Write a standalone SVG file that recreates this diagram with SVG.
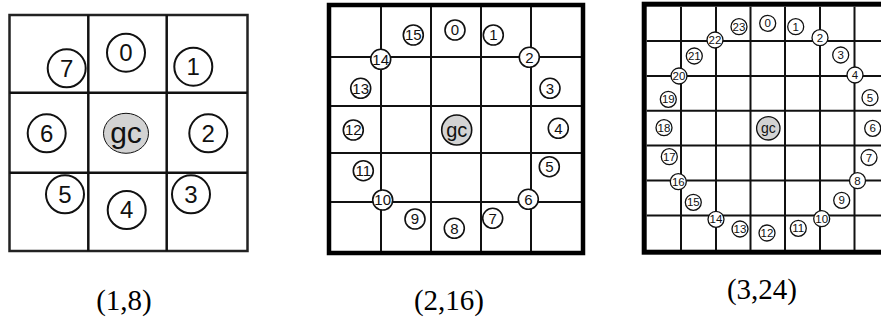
<svg xmlns="http://www.w3.org/2000/svg" width="881" height="320" viewBox="0 0 881 320">
<style>
.grid line{stroke:#111;}
.g1 line{stroke-width:2.5;}
.g2 line,.g3 line{stroke-width:2;}
.n circle{fill:#fff;stroke:#111;}
.n text{font-family:"Liberation Sans",Arial,sans-serif;fill:#111;text-anchor:middle;}
.gc ellipse,.gc circle{fill:#d3d3d3;stroke:#111;}
.n1 circle{stroke-width:2;}
.n1 text{font-size:24px;}
.n2 circle{stroke-width:1.6;}
.n2 text{font-size:15px;}
.n3 circle{stroke-width:1.3;}
.n3 text{font-size:11.5px;}
.cap{font-family:"Liberation Serif","Times New Roman",serif;font-size:29px;fill:#000;text-anchor:middle;}
</style>
<rect width="881" height="320" fill="#fff"/>

<!-- grid 1 -->
<g id="grid1" class="grid g1">
<rect x="9.5" y="15" width="238" height="236" fill="none" stroke="#222" stroke-width="2.5"/>
<line x1="88.3" y1="15" x2="88.3" y2="251"/>
<line x1="166.7" y1="15" x2="166.7" y2="251"/>
<line x1="9.5" y1="92.7" x2="247.5" y2="92.7"/>
<line x1="9.5" y1="172.7" x2="247.5" y2="172.7"/>
</g>
<g id="g1-gc" class="n n1 gc"><ellipse cx="126" cy="133.3" rx="22.5" ry="20"/><text x="126" y="133.3" dy="0.33em" style="font-size:30px">gc</text></g>
<g id="g1-0" class="n n1"><circle cx="126" cy="52.7" r="19"/><text x="126" y="52.7" dy="0.35em">0</text></g>
<g id="g1-1" class="n n1"><circle cx="193.3" cy="66.7" r="19"/><text x="193.3" y="66.7" dy="0.35em">1</text></g>
<g id="g1-2" class="n n1"><circle cx="208.3" cy="133.3" r="19"/><text x="208.3" y="133.3" dy="0.35em">2</text></g>
<g id="g1-3" class="n n1"><circle cx="191" cy="194.3" r="19"/><text x="191" y="194.3" dy="0.35em">3</text></g>
<g id="g1-4" class="n n1"><circle cx="126.7" cy="210" r="19"/><text x="126.7" y="210" dy="0.35em">4</text></g>
<g id="g1-5" class="n n1"><circle cx="65" cy="194.3" r="19"/><text x="65" y="194.3" dy="0.35em">5</text></g>
<g id="g1-6" class="n n1"><circle cx="46.7" cy="133.3" r="19"/><text x="46.7" y="133.3" dy="0.35em">6</text></g>
<g id="g1-7" class="n n1"><circle cx="66.7" cy="68.3" r="19"/><text x="66.7" y="68.3" dy="0.35em">7</text></g>

<!-- grid 2 -->
<g id="grid2" class="grid g2">
<rect x="329" y="5" width="254" height="248" fill="none" stroke="#000" stroke-width="4.5"/>
<line x1="381" y1="7" x2="381" y2="251"/>
<line x1="431" y1="7" x2="431" y2="251"/>
<line x1="481" y1="7" x2="481" y2="251"/>
<line x1="531" y1="7" x2="531" y2="251"/>
<line x1="331" y1="57" x2="581" y2="57"/>
<line x1="331" y1="106" x2="581" y2="106"/>
<line x1="331" y1="153" x2="581" y2="153"/>
<line x1="331" y1="202" x2="581" y2="202"/>
</g>
<g id="g2-gc" class="n n2 gc"><circle cx="456.7" cy="130" r="15"/><text x="456.7" y="130" dy="0.33em" style="font-size:20px">gc</text></g>
<g id="g2-0" class="n n2"><circle cx="455" cy="30" r="10"/><text x="455" y="30" dy="0.35em">0</text></g>
<g id="g2-1" class="n n2"><circle cx="493.3" cy="35" r="10"/><text x="493.3" y="35" dy="0.35em">1</text></g>
<g id="g2-2" class="n n2"><circle cx="529.3" cy="57.3" r="10"/><text x="529.3" y="57.3" dy="0.35em">2</text></g>
<g id="g2-3" class="n n2"><circle cx="550" cy="88.3" r="10"/><text x="550" y="88.3" dy="0.35em">3</text></g>
<g id="g2-4" class="n n2"><circle cx="558.3" cy="128.3" r="10"/><text x="558.3" y="128.3" dy="0.35em">4</text></g>
<g id="g2-5" class="n n2"><circle cx="549.3" cy="166.7" r="10"/><text x="549.3" y="166.7" dy="0.35em">5</text></g>
<g id="g2-6" class="n n2"><circle cx="528.3" cy="199.3" r="10"/><text x="528.3" y="199.3" dy="0.35em">6</text></g>
<g id="g2-7" class="n n2"><circle cx="492.7" cy="218.3" r="10"/><text x="492.7" y="218.3" dy="0.35em">7</text></g>
<g id="g2-8" class="n n2"><circle cx="454.3" cy="228.3" r="10"/><text x="454.3" y="228.3" dy="0.35em">8</text></g>
<g id="g2-9" class="n n2"><circle cx="415" cy="219" r="10"/><text x="415" y="219" dy="0.35em">9</text></g>
<g id="g2-10" class="n n2"><circle cx="382.7" cy="200" r="10"/><text x="382.7" y="200" dy="0.35em">10</text></g>
<g id="g2-11" class="n n2"><circle cx="363.3" cy="170.7" r="10"/><text x="363.3" y="170.7" dy="0.35em">11</text></g>
<g id="g2-12" class="n n2"><circle cx="353.3" cy="130" r="10"/><text x="353.3" y="130" dy="0.35em">12</text></g>
<g id="g2-13" class="n n2"><circle cx="360.7" cy="88.3" r="10"/><text x="360.7" y="88.3" dy="0.35em">13</text></g>
<g id="g2-14" class="n n2"><circle cx="380.7" cy="59.3" r="10"/><text x="380.7" y="59.3" dy="0.35em">14</text></g>
<g id="g2-15" class="n n2"><circle cx="413.3" cy="35" r="10"/><text x="413.3" y="35" dy="0.35em">15</text></g>

<!-- grid 3 -->
<g id="grid3" class="grid g3">
<rect x="644.2" y="4.2" width="250" height="248" fill="none" stroke="#000" stroke-width="5"/>
<line x1="681" y1="6.7" x2="681" y2="250"/>
<line x1="716" y1="6.7" x2="716" y2="250"/>
<line x1="750.5" y1="6.7" x2="750.5" y2="250"/>
<line x1="785" y1="6.7" x2="785" y2="250"/>
<line x1="820" y1="6.7" x2="820" y2="250"/>
<line x1="854.5" y1="6.7" x2="854.5" y2="250"/>
<line x1="646.7" y1="41" x2="881" y2="41"/>
<line x1="646.7" y1="76" x2="881" y2="76"/>
<line x1="646.7" y1="110.7" x2="881" y2="110.7"/>
<line x1="646.7" y1="145.5" x2="881" y2="145.5"/>
<line x1="646.7" y1="180.5" x2="881" y2="180.5"/>
<line x1="646.7" y1="215.5" x2="881" y2="215.5"/>
</g>
<g id="g3-gc" class="n n3 gc"><circle cx="768.3" cy="128.3" r="11.7"/><text x="768.3" y="128.3" dy="0.33em" style="font-size:14px">gc</text></g>
<g id="g3-0" class="n n3"><circle cx="767.7" cy="23.3" r="8"/><text x="767.7" y="23.3" dy="0.35em">0</text></g>
<g id="g3-1" class="n n3"><circle cx="795.7" cy="26.7" r="8"/><text x="795.7" y="26.7" dy="0.35em">1</text></g>
<g id="g3-2" class="n n3"><circle cx="820" cy="37.7" r="8"/><text x="820" y="37.7" dy="0.35em">2</text></g>
<g id="g3-3" class="n n3"><circle cx="840.7" cy="55" r="8"/><text x="840.7" y="55" dy="0.35em">3</text></g>
<g id="g3-4" class="n n3"><circle cx="855" cy="75" r="8"/><text x="855" y="75" dy="0.35em">4</text></g>
<g id="g3-5" class="n n3"><circle cx="870" cy="97.7" r="8"/><text x="870" y="97.7" dy="0.35em">5</text></g>
<g id="g3-6" class="n n3"><circle cx="872.7" cy="128.3" r="8"/><text x="872.7" y="128.3" dy="0.35em">6</text></g>
<g id="g3-7" class="n n3"><circle cx="869" cy="157.5" r="8"/><text x="869" y="157.5" dy="0.35em">7</text></g>
<g id="g3-8" class="n n3"><circle cx="857.5" cy="180.7" r="8"/><text x="857.5" y="180.7" dy="0.35em">8</text></g>
<g id="g3-9" class="n n3"><circle cx="841.7" cy="200.3" r="8"/><text x="841.7" y="200.3" dy="0.35em">9</text></g>
<g id="g3-10" class="n n3"><circle cx="821.7" cy="218.7" r="8"/><text x="821.7" y="218.7" dy="0.35em">10</text></g>
<g id="g3-11" class="n n3"><circle cx="798.3" cy="228.3" r="8"/><text x="798.3" y="228.3" dy="0.35em">11</text></g>
<g id="g3-12" class="n n3"><circle cx="767" cy="233" r="8"/><text x="767" y="233" dy="0.35em">12</text></g>
<g id="g3-13" class="n n3"><circle cx="740" cy="229" r="8"/><text x="740" y="229" dy="0.35em">13</text></g>
<g id="g3-14" class="n n3"><circle cx="716" cy="219.3" r="8"/><text x="716" y="219.3" dy="0.35em">14</text></g>
<g id="g3-15" class="n n3"><circle cx="693.3" cy="202.3" r="8"/><text x="693.3" y="202.3" dy="0.35em">15</text></g>
<g id="g3-16" class="n n3"><circle cx="678.3" cy="181.7" r="8"/><text x="678.3" y="181.7" dy="0.35em">16</text></g>
<g id="g3-17" class="n n3"><circle cx="669.3" cy="156.7" r="8"/><text x="669.3" y="156.7" dy="0.35em">17</text></g>
<g id="g3-18" class="n n3"><circle cx="664" cy="127.7" r="8"/><text x="664" y="127.7" dy="0.35em">18</text></g>
<g id="g3-19" class="n n3"><circle cx="668.3" cy="99.3" r="8"/><text x="668.3" y="99.3" dy="0.35em">19</text></g>
<g id="g3-20" class="n n3"><circle cx="679" cy="76" r="8"/><text x="679" y="76" dy="0.35em">20</text></g>
<g id="g3-21" class="n n3"><circle cx="694.3" cy="56" r="8"/><text x="694.3" y="56" dy="0.35em">21</text></g>
<g id="g3-22" class="n n3"><circle cx="715" cy="40" r="8"/><text x="715" y="40" dy="0.35em">22</text></g>
<g id="g3-23" class="n n3"><circle cx="739" cy="26.7" r="8"/><text x="739" y="26.7" dy="0.35em">23</text></g>

<g id="captions">
<text class="cap" x="124" y="310">(1,8)</text>
<text class="cap" x="449" y="310">(2,16)</text>
<text class="cap" x="762" y="299">(3,24)</text>
</g>
<g id="connectors"/>
</svg>
